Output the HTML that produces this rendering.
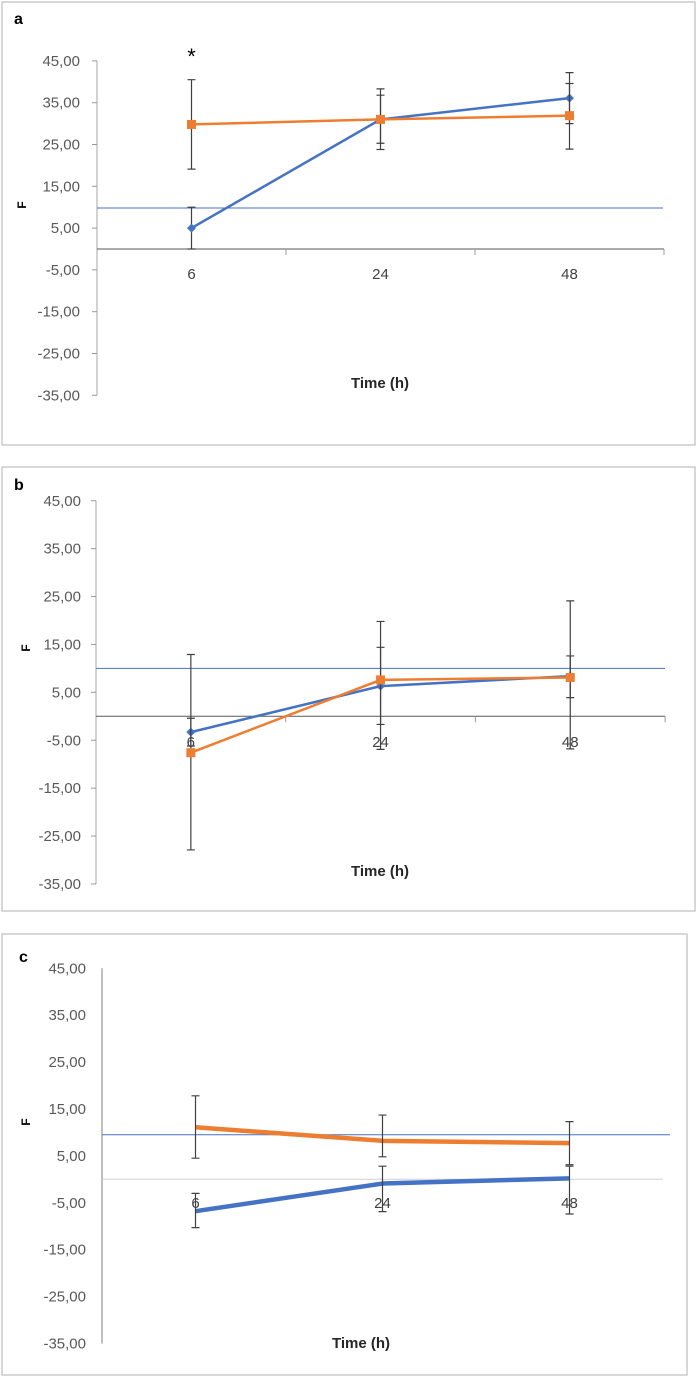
<!DOCTYPE html>
<html><head><meta charset="utf-8"><style>
html,body{margin:0;padding:0;background:#fff;}
svg{display:block;font-family:"Liberation Sans",sans-serif;}
</style></head><body>
<svg id="fig" width="697" height="1379" viewBox="0 0 697 1379" xmlns="http://www.w3.org/2000/svg"></svg>
<script>
// ---- data ----
const categories = ["6","24","48"];
const yTicks = [45,35,25,15,5,-5,-15,-25,-35];
const yTickLabels = ["45,00","35,00","25,00","15,00","5,00","-5,00","-15,00","-25,00","-35,00"];
// panel a
const aBlue = [5.0, 31.0, 36.1];
const aBlueLow = [0.0, 25.3, 30.0];
const aBlueHigh = [10.0, 36.8, 42.2];
const aOrange = [29.8, 31.0, 31.9];
const aOrangeLow = [19.1, 23.8, 23.9];
const aOrangeHigh = [40.5, 38.3, 39.6];
const aRef = 9.8;
// panel b
const bBlue = [-3.3, 6.3, 8.4];
const bBlueLow = [-6.2, -1.7, 3.9];
const bBlueHigh = [-0.4, 14.4, 12.6];
const bOrange = [-7.6, 7.6, 8.1];
const bOrangeLow = [-27.9, -6.9, -6.8];
const bOrangeHigh = [12.9, 19.8, 24.1];
const bRef = 10.0;
// panel c
const cBlue = [-6.8, -0.9, 0.2];
const cBlueLow = [-10.3, -6.9, -7.4];
const cBlueHigh = [-3.0, 2.8, 2.8];
const cOrange = [11.1, 8.2, 7.7];
const cOrangeLow = [4.5, 4.8, 3.1];
const cOrangeHigh = [17.8, 13.7, 12.3];
const cRef = 9.5;

const NS="http://www.w3.org/2000/svg";
const svg=document.getElementById('fig');
function mk(tag,attrs,parent){const e=document.createElementNS(NS,tag);for(const k in attrs)e.setAttribute(k,attrs[k]);(parent||svg).appendChild(e);return e;}

function panel(cfg){
  const g=mk('g',{});
  
  
  const box=mk('rect',{x:cfg.bx,y:cfg.by,width:cfg.bw,height:cfg.bh,fill:'#fff',stroke:'#bfbfbf','stroke-width':1.2},g);
  
  
  const yS=v=>cfg.y0-v*cfg.k;
  const xS=i=>cfg.ax+(i+0.5)*cfg.cw;
  const yAxis=mk('line',{x1:cfg.ax,x2:cfg.ax,y1:yS(45),y2:yS(-35),stroke:cfg.axisCol,'stroke-width':1},g);
  
  
  yTicks.forEach((t,i)=>{
    if(cfg.yticks){const tk=mk('line',{x1:cfg.ax-5,x2:cfg.ax,y1:yS(t),y2:yS(t),stroke:'#999','stroke-width':1},g);
      
      }
    const tl=mk('text',{x:cfg.lx,y:yS(t)+5,'text-anchor':'end','font-size':15,fill:'#595959'},g);
    tl.textContent=yTickLabels[i];
    
    
  });
  const xAxis=mk('line',{x1:cfg.ax,x2:cfg.ax+3*cfg.cw,y1:yS(0),y2:yS(0),stroke:cfg.xAxisCol,'stroke-width':1},g);
  
  
  if(cfg.xticks){for(let i=1;i<=3;i++){const tk=mk('line',{x1:cfg.ax+i*cfg.cw,x2:cfg.ax+i*cfg.cw,y1:yS(0),y2:yS(0)+6,stroke:'#999','stroke-width':1},g);
    
    }}
  categories.forEach((c,i)=>{
    const t=mk('text',{x:xS(i),y:cfg.xly,'text-anchor':'middle','font-size':15,fill:'#404040'},g);
    t.textContent=c;
    
    
  });
  const ref=mk('line',{x1:cfg.ax,x2:cfg.refEnd,y1:yS(cfg.ref),y2:yS(cfg.ref),stroke:'#4472c4','stroke-width':1},g);
  
  
  function series(vals,lo,hi,col,name,marker){
    const pts=vals.map((v,i)=>xS(i)+','+yS(v)).join(' ');
    const pl=mk('polyline',{points:pts,fill:'none',stroke:col,'stroke-width':cfg.lw,'stroke-linejoin':'round'},g);
    
    
    vals.forEach((v,i)=>{
      const x=xS(i);
      const eb=mk('path',{d:`M${x},${yS(lo[i])}V${yS(hi[i])}M${x-4},${yS(lo[i])}h8M${x-4},${yS(hi[i])}h8`,stroke:'#404040','stroke-width':1.2,fill:'none'},g);
      
      
      if(marker==='square'){const m=mk('rect',{x:x-4.5,y:yS(v)-4.5,width:9,height:9,fill:col},g);
        
        }
      else if(marker==='diamond'){const m=mk('path',{d:`M${x},${yS(v)-4.5}l4.5,4.5l-4.5,4.5l-4.5,-4.5z`,fill:col},g);
        
        }
    });
  }
  series(cfg.blue,cfg.blueLo,cfg.blueHi,'#4472c4','blue-series',cfg.markers?'diamond':null);
  series(cfg.orange,cfg.orangeLo,cfg.orangeHi,'#ed7d31','orange-series',cfg.markers?'square':null);
  const pl=mk('text',{x:cfg.plx,y:cfg.ply,'font-size':16,'font-weight':'bold',fill:'#000'},g);
  pl.textContent=cfg.id;
  
  
  const f=mk('text',{x:0,y:0,'font-size':12,'font-weight':'bold',fill:'#000','text-anchor':'middle',transform:`translate(${cfg.fx},${cfg.fy}) rotate(-90)`},g);
  f.textContent='F';
  
  
  const xt=mk('text',{x:cfg.tx,y:cfg.ty,'font-size':15,'font-weight':'bold',fill:'#262626','text-anchor':'middle'},g);
  xt.textContent='Time (h)';
  
  
  if(cfg.star){const s=mk('text',{x:xS(0),y:cfg.starY,'font-size':22,fill:'#000','text-anchor':'middle'},g);
    s.textContent='*';
    
    }
}

panel({id:'a',bx:2,by:2,bw:693,bh:443,ax:97,cw:189,y0:249,k:4.18,lx:80,xly:279,axisCol:'#a6a6a6',xAxisCol:'#595959',yticks:true,xticks:true,refEnd:663,ref:aRef,
  blue:aBlue,blueLo:aBlueLow,blueHi:aBlueHigh,orange:aOrange,orangeLo:aOrangeLow,orangeHi:aOrangeHigh,lw:2.5,markers:true,
  plx:14,ply:24,fx:26,fy:205,tx:380,ty:388,star:true,starY:64});
panel({id:'b',bx:2,by:467,bw:693,bh:444,ax:96,cw:189.7,y0:716.3,k:4.79,lx:81,xly:747,axisCol:'#a6a6a6',xAxisCol:'#595959',yticks:true,xticks:true,refEnd:665,ref:bRef,
  blue:bBlue,blueLo:bBlueLow,blueHi:bBlueHigh,orange:bOrange,orangeLo:bOrangeLow,orangeHi:bOrangeHigh,lw:2.5,markers:true,
  plx:14,ply:490,fx:30,fy:648,tx:380,ty:876});
panel({id:'c',bx:2,by:934,bw:685,bh:441,ax:102,cw:187,y0:1179.3,k:4.69,lx:86,xly:1208,axisCol:'#7f7f7f',xAxisCol:'#d0d0d0',yticks:false,xticks:false,refEnd:670,ref:cRef,
  blue:cBlue,blueLo:cBlueLow,blueHi:cBlueHigh,orange:cOrange,orangeLo:cOrangeLow,orangeHi:cOrangeHigh,lw:4.5,markers:false,
  plx:19,ply:962,fx:30,fy:1122,tx:361,ty:1348});
</script>
</body></html>
